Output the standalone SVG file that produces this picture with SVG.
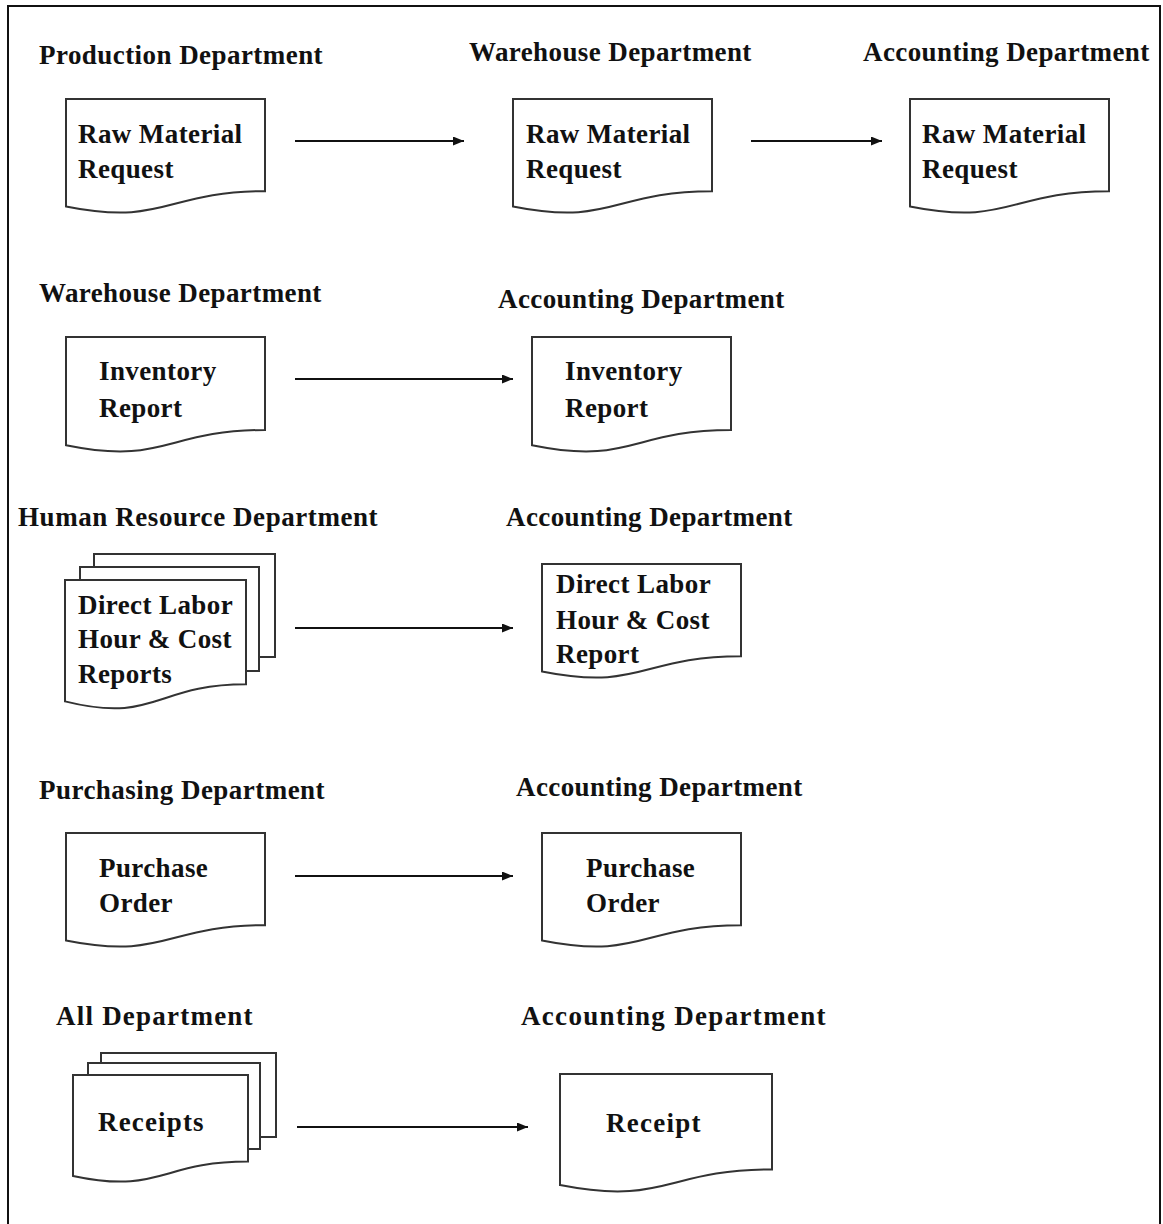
<svg xmlns="http://www.w3.org/2000/svg" width="1163" height="1224" viewBox="0 0 1163 1224">
<style>
.t{font-family:"Liberation Serif","Times New Roman",serif;font-weight:bold;font-size:27px;letter-spacing:0.4px;fill:#111}
.d{fill:#fff;stroke:#333;stroke-width:2}
.s{fill:#fff;stroke:#333;stroke-width:2}
.c{stroke:#111;stroke-width:2.2;fill:none;marker-end:url(#ah)}
</style>
<defs>
<marker id="ah" markerUnits="userSpaceOnUse" markerWidth="11" markerHeight="9" refX="11" refY="4.5" orient="auto">
<path d="M0,0 L11,4.5 L0,9 Z" fill="#111"/>
</marker>
</defs>
<rect x="0" y="0" width="1163" height="1224" fill="#fff"/>
<rect x="8" y="6" width="1152" height="1240" fill="none" stroke="#111" stroke-width="2"/>

<g id="headers">
<text class="t" x="39" y="64" textLength="284">Production Department</text>
<text class="t" x="469" y="61">Warehouse Department</text>
<text class="t" x="863" y="61">Accounting Department</text>
<text class="t" x="39" y="302">Warehouse Department</text>
<text class="t" x="498" y="308">Accounting Department</text>
<text class="t" x="18" y="526" textLength="360">Human Resource Department</text>
<text class="t" x="506" y="526">Accounting Department</text>
<text class="t" x="39" y="799" textLength="286">Purchasing Department</text>
<text class="t" x="516" y="796">Accounting Department</text>
<text class="t" x="56" y="1025" textLength="197">All Department</text>
<text class="t" x="521" y="1025" textLength="305">Accounting Department</text>
</g>

<g id="n1">
<path class="d" d="M66,99 H265 V191.2 C165.5,191.2 165.5,226.4 66,206.4 Z"/>
<text class="t" x="78" y="143">Raw Material</text>
<text class="t" x="78" y="178">Request</text>
</g>
<g id="n2">
<path class="d" d="M513,99 H712 V191.2 C612.5,191.2 612.5,226.4 513,206.4 Z"/>
<text class="t" x="526" y="143">Raw Material</text>
<text class="t" x="526" y="178">Request</text>
</g>
<g id="n3">
<path class="d" d="M910,99 H1109 V191.2 C1009.5,191.2 1009.5,226.4 910,206.4 Z"/>
<text class="t" x="922" y="143">Raw Material</text>
<text class="t" x="922" y="178">Request</text>
</g>
<g id="n4">
<path class="d" d="M66,337 H265 V430 C165.5,430 165.5,465.5 66,445.3 Z"/>
<text class="t" x="99" y="380">Inventory</text>
<text class="t" x="99" y="417">Report</text>
</g>
<g id="n5">
<path class="d" d="M532,337 H731 V430 C631.5,430 631.5,465.5 532,445.3 Z"/>
<text class="t" x="565" y="380">Inventory</text>
<text class="t" x="565" y="417">Report</text>
</g>
<g id="n6">
<path class="s" d="M94,567 V554 H275 V657 H259"/>
<path class="s" d="M80,580 V567 H259 V671 H246"/>
<path class="d" d="M65,580 H246 V684.3 C155.5,684.3 155.5,724 65,701.4 Z"/>
<text class="t" x="78" y="614">Direct Labor</text>
<text class="t" x="78" y="648">Hour &amp; Cost</text>
<text class="t" x="78" y="683">Reports</text>
</g>
<g id="n7">
<path class="d" d="M542,564 H741 V656.2 C641.5,656.2 641.5,691.4 542,671.4 Z"/>
<text class="t" x="556" y="593">Direct Labor</text>
<text class="t" x="556" y="629">Hour &amp; Cost</text>
<text class="t" x="556" y="663">Report</text>
</g>
<g id="n8">
<path class="d" d="M66,833 H265 V925.2 C165.5,925.2 165.5,960.4 66,940.4 Z"/>
<text class="t" x="99" y="877">Purchase</text>
<text class="t" x="99" y="912">Order</text>
</g>
<g id="n9">
<path class="d" d="M542,833 H741 V925.2 C641.5,925.2 641.5,960.4 542,940.4 Z"/>
<text class="t" x="586" y="877">Purchase</text>
<text class="t" x="586" y="912">Order</text>
</g>
<g id="n10">
<path class="s" d="M101,1063 V1053 H276 V1137 H260"/>
<path class="s" d="M88,1075 V1063 H260 V1149 H248"/>
<path class="d" d="M73,1075 H248 V1161.6 C160.5,1161.6 160.5,1194.6 73,1175.9 Z"/>
<text class="t" x="98" y="1131" textLength="106">Receipts</text>
</g>
<g id="n11">
<path class="d" d="M560,1074 H772 V1169.4 C666,1169.4 666,1205.8 560,1185.1 Z"/>
<text class="t" x="606" y="1132" textLength="95">Receipt</text>
</g>

<g id="connectors">
<line class="c" x1="295" y1="141" x2="464" y2="141"/>
<line class="c" x1="751" y1="141" x2="882" y2="141"/>
<line class="c" x1="295" y1="379" x2="513" y2="379"/>
<line class="c" x1="295" y1="628" x2="513" y2="628"/>
<line class="c" x1="295" y1="876" x2="513" y2="876"/>
<line class="c" x1="297" y1="1127" x2="528" y2="1127"/>
</g>
</svg>
